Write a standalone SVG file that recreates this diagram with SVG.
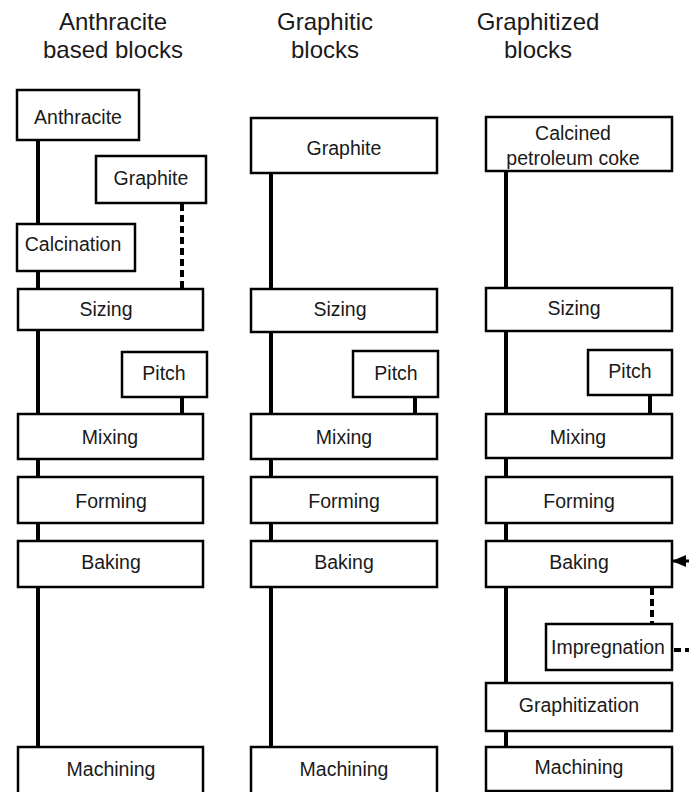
<svg xmlns="http://www.w3.org/2000/svg" width="689" height="792" viewBox="0 0 689 792">
<style>
.box{fill:#fff;stroke:#000;stroke-width:2.5}
.t{font-family:"Liberation Sans",Arial,sans-serif;font-size:19.5px;fill:#1a1a1a;text-anchor:middle}
.h{font-family:"Liberation Sans",Arial,sans-serif;font-size:24px;fill:#1a1a1a;text-anchor:middle}
.ln{stroke:#000;stroke-width:4;fill:none}
.dl{stroke:#000;stroke-width:4;fill:none;stroke-dasharray:7 4}
</style>
<defs>
<marker id="arr" markerWidth="14" markerHeight="12" refX="13" refY="6" orient="auto" markerUnits="userSpaceOnUse">
<path d="M0,0 L14,6 L0,12 z" fill="#000"/>
</marker>
</defs>
<g id="headers">
<text class="h" x="113" y="30">Anthracite</text>
<text class="h" x="113" y="58">based blocks</text>
<text class="h" x="325" y="30">Graphitic</text>
<text class="h" x="325" y="58">blocks</text>
<text class="h" x="538" y="30">Graphitized</text>
<text class="h" x="538" y="58">blocks</text>
</g>
<g id="connectors">
<line class="ln" x1="38" y1="140" x2="38" y2="747"/>
<line class="dl" x1="182" y1="204" x2="182" y2="289"/>
<line class="ln" x1="182" y1="397" x2="182" y2="414"/>
<line class="ln" x1="271" y1="173" x2="271" y2="747"/>
<line class="ln" x1="415" y1="397" x2="415" y2="414"/>
<line class="ln" x1="506" y1="171" x2="506" y2="747"/>
<line class="ln" x1="650" y1="395" x2="650" y2="414"/>
<line class="dl" x1="652" y1="588" x2="652" y2="624"/>
<line class="dl" x1="674" y1="650" x2="689" y2="650"/>
<line stroke="#000" stroke-width="3" x1="689" y1="561" x2="673" y2="561" marker-end="url(#arr)"/>
</g>
<g id="col1-anthracite"><rect class="box" x="17" y="90" width="122" height="50"/><text class="t" x="78" y="124">Anthracite</text></g>
<g id="col1-graphite"><rect class="box" x="96" y="156" width="110" height="47"/><text class="t" x="151" y="185">Graphite</text></g>
<g id="col1-calcination"><rect class="box" x="17" y="224" width="118" height="47"/><text class="t" x="73" y="251">Calcination</text></g>
<g id="col1-sizing"><rect class="box" x="18" y="289" width="185" height="41"/><text class="t" x="106" y="316">Sizing</text></g>
<g id="col1-pitch"><rect class="box" x="122" y="352" width="85" height="45"/><text class="t" x="164" y="380">Pitch</text></g>
<g id="col1-mixing"><rect class="box" x="18" y="414" width="185" height="45"/><text class="t" x="110" y="444">Mixing</text></g>
<g id="col1-forming"><rect class="box" x="18" y="477" width="185" height="46"/><text class="t" x="111" y="508">Forming</text></g>
<g id="col1-baking"><rect class="box" x="18" y="541" width="185" height="46"/><text class="t" x="111" y="569">Baking</text></g>
<g id="col1-machining"><rect class="box" x="18" y="747" width="185" height="50"/><text class="t" x="111" y="776">Machining</text></g>
<g id="col2-graphite"><rect class="box" x="251" y="118" width="186" height="55"/><text class="t" x="344" y="155">Graphite</text></g>
<g id="col2-sizing"><rect class="box" x="251" y="289" width="186" height="43"/><text class="t" x="340" y="316">Sizing</text></g>
<g id="col2-pitch"><rect class="box" x="353" y="351" width="85" height="46"/><text class="t" x="396" y="380">Pitch</text></g>
<g id="col2-mixing"><rect class="box" x="251" y="414" width="186" height="45"/><text class="t" x="344" y="444">Mixing</text></g>
<g id="col2-forming"><rect class="box" x="251" y="477" width="186" height="46"/><text class="t" x="344" y="508">Forming</text></g>
<g id="col2-baking"><rect class="box" x="251" y="541" width="186" height="46"/><text class="t" x="344" y="569">Baking</text></g>
<g id="col2-machining"><rect class="box" x="251" y="747" width="186" height="50"/><text class="t" x="344" y="776">Machining</text></g>
<g id="col3-coke"><rect class="box" x="486" y="117" width="186" height="54"/><text class="t" x="573" y="140">Calcined</text><text class="t" x="573" y="165">petroleum coke</text></g>
<g id="col3-sizing"><rect class="box" x="486" y="288" width="186" height="43"/><text class="t" x="574" y="315">Sizing</text></g>
<g id="col3-pitch"><rect class="box" x="588" y="350" width="84" height="45"/><text class="t" x="630" y="378">Pitch</text></g>
<g id="col3-mixing"><rect class="box" x="486" y="414" width="186" height="44"/><text class="t" x="578" y="444">Mixing</text></g>
<g id="col3-forming"><rect class="box" x="486" y="477" width="186" height="46"/><text class="t" x="579" y="508">Forming</text></g>
<g id="col3-baking"><rect class="box" x="486" y="541" width="186" height="46"/><text class="t" x="579" y="569">Baking</text></g>
<g id="col3-impregnation"><rect class="box" x="546" y="624" width="126" height="46"/><text class="t" x="608" y="654">Impregnation</text></g>
<g id="col3-graphitization"><rect class="box" x="486" y="683" width="186" height="48"/><text class="t" x="579" y="712">Graphitization</text></g>
<g id="col3-machining"><rect class="box" x="486" y="747" width="186" height="44"/><text class="t" x="579" y="774">Machining</text></g>
</svg>
